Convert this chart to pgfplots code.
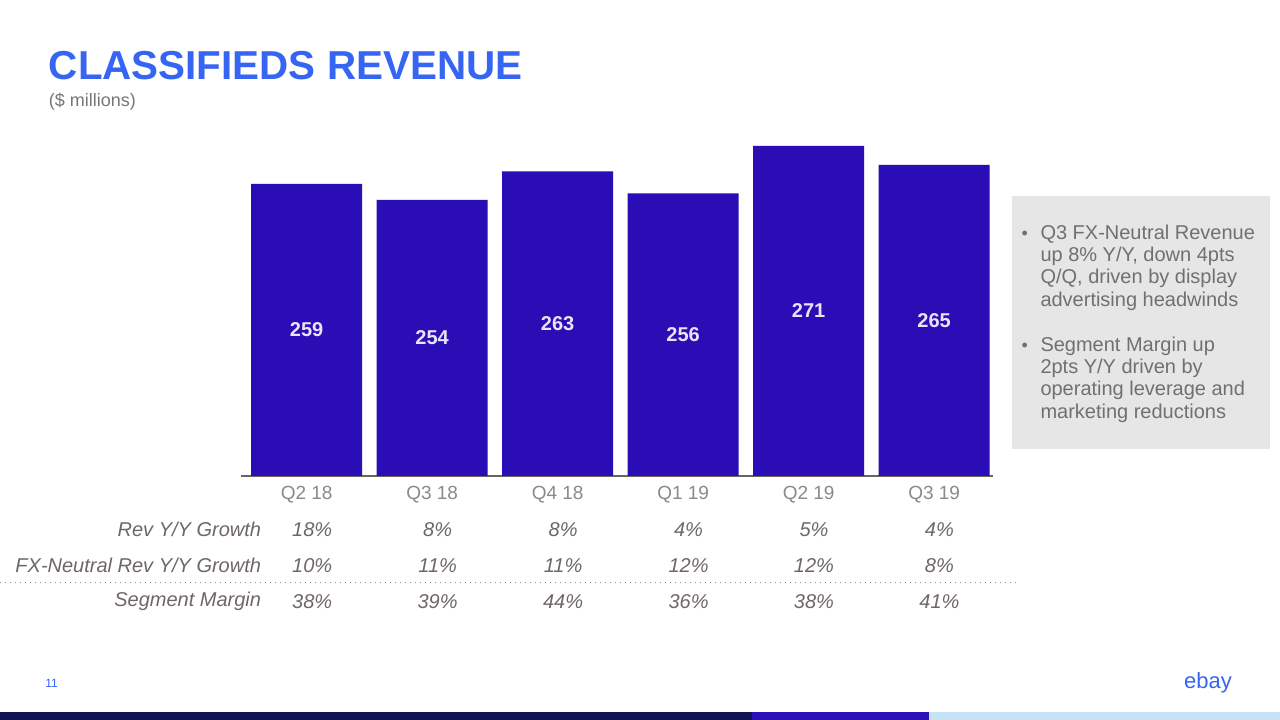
\documentclass[border=0pt]{standalone}
\usepackage{fontspec}
\setmainfont{Liberation Sans}
\usepackage{pgfplots}
\pgfplotsset{compat=1.18}
\definecolor{ebayblue}{HTML}{3665F3}
\definecolor{barcol}{HTML}{2B0DB5}
\definecolor{tickgray}{HTML}{8A8A8A}
\definecolor{tabgray}{HTML}{6E6766}
\definecolor{boxgray}{HTML}{E6E6E6}
\definecolor{boxtext}{HTML}{707070}
\definecolor{subgray}{HTML}{777777}
\definecolor{navy}{HTML}{121357}
\definecolor{midblue}{HTML}{2A12B8}
\definecolor{lightblue}{HTML}{C6E3F6}
\definecolor{barlabel}{HTML}{E8E4F8}
\begin{document}
\begin{tikzpicture}[x=0.5pt,y=0.5pt]
\fill[white] (0,0) rectangle (1280,720);
% title
\node[anchor=base west, inner sep=0, text=ebayblue, font=\fontsize{20.2}{24}\selectfont\bfseries] at (48,640) {CLASSIFIEDS REVENUE};
\node[anchor=west, inner sep=0, text=subgray, font=\fontsize{9}{11}\selectfont] at (48,618) {(\$ millions)};
\begin{axis}[
  at={(120.5pt,122pt)}, anchor=south west,
  scale only axis, width=376pt, height=165pt,
  xmin=-0.52, xmax=5.47, ymin=166.8, ymax=271,
  axis x line*=bottom, axis y line=none,
  x axis line style={draw=black!60, line width=0.8pt, -},
  xtick={0,1,2,3,4,5},
  xticklabels={Q2 18,Q3 18,Q4 18,Q1 19,Q2 19,Q3 19},
  major tick length=0pt,
  xticklabel style={text=tickgray, font=\fontsize{9.5}{11}\selectfont, yshift=-1.5pt},
  clip=false,
]
\addplot[ybar, bar width=55.5pt, fill=barcol, draw=none] coordinates {
  (0,259) (1,254) (2,263) (3,256) (4,271) (5,265)
};
\addplot[draw=none, mark=none, nodes near coords, point meta=explicit symbolic,
  every node near coord/.append style={anchor=center, text=barlabel, font=\fontsize{10}{12}\selectfont\bfseries}]
  coordinates {
  (0,212.9)[259] (1,210.4)[254] (2,214.9)[263] (3,211.4)[256] (4,218.9)[271] (5,215.9)[265]
};
\end{axis}
% table
\begin{scope}[every node/.style={font=\fontsize{10}{12}\selectfont\itshape, text=tabgray, inner sep=0}]
\node[anchor=east] at (261,190) {Rev Y/Y Growth};
\node[anchor=east] at (261,154) {FX-Neutral Rev Y/Y Growth};
\node[anchor=east] at (261,118) {Segment Margin};
\foreach \x/\a/\b/\c in {306.8/18/10/38, 432.3/8/11/39, 557.8/8/11/44, 683.3/4/12/36, 808.8/5/12/38, 934.3/4/8/41} {
  \node at (\x+5,190) {\a\%};
  \node at (\x+5,154) {\b\%};
  \node at (\x+5,118) {\c\%};
}
\end{scope}
\draw[black!45, dotted, line width=0.5pt] (0,137) -- (1018,137);
% side box
\fill[boxgray] (1012,271) rectangle (1270,524);
\begin{scope}[every node/.style={font=\fontsize{10}{12}\selectfont, text=boxtext, inner sep=0, anchor=base west}]
\node at (1021,480) {\fontsize{9}{10}\selectfont\textbullet};
\node at (1040,480) {Q3 FX-Neutral Revenue};
\node at (1040,458) {up 8\% Y/Y, down 4pts};
\node at (1040,436) {Q/Q, driven by display};
\node at (1040,413) {advertising headwinds};
\node at (1021,368) {\fontsize{9}{10}\selectfont\textbullet};
\node at (1040,368) {Segment Margin up};
\node at (1040,346) {2pts Y/Y driven by};
\node at (1040,324) {operating leverage and};
\node at (1040,301) {marketing reductions};
\end{scope}
% footer
\fill[navy] (0,0) rectangle (752,8);
\fill[midblue] (752,0) rectangle (929,8);
\fill[lightblue] (929,0) rectangle (1280,8);
\node[text=ebayblue, font=\fontsize{6}{7}\selectfont, inner sep=0] at (51,36) {11};
\node[text=ebayblue, font=\fontsize{11}{12}\selectfont, inner sep=0] at (1208,37) {ebay};
\end{tikzpicture}
\end{document}
